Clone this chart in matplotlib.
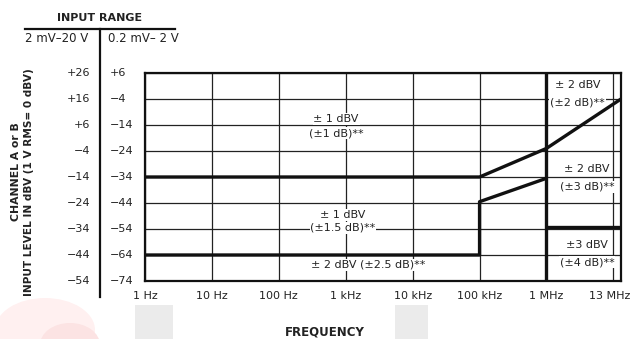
import matplotlib
matplotlib.use("Agg")
import matplotlib.pyplot as plt
from matplotlib.patches import Rectangle, Ellipse
from matplotlib.transforms import blended_transform_factory, ScaledTranslation

plt.rcParams['font.family'] = ['DejaVu Sans']

# ---- data ----
freq_ticks = [1, 10, 100, 1e3, 1e4, 1e5, 1e6, 1.3e7]
freq_labels = ["1 Hz", "10 Hz", "100 Hz", "1 kHz", "10 kHz", "100 kHz", "1 MHz", "13 MHz"]
grid_freqs = [1, 10, 100, 1e3, 1e4, 1e5, 1e6, 1e7]
range_hi = [26, 16, 6, -4, -14, -24, -34, -44, -54]          # 2 mV - 20 V range (dBV)
range_lo = [6, -4, -14, -24, -34, -44, -54, -64, -74]         # 0.2 mV - 2 V range (dBV)
range_hi_labels = ["+26", "+16", "+6", "\u22124", "\u221214", "\u221224", "\u221234", "\u221244", "\u221254"]
range_lo_labels = ["+6", "\u22124", "\u221214", "\u221224", "\u221234", "\u221244", "\u221254", "\u221264", "\u221274"]

upper_f = [1, 1e5, 1e6, 1.3e7]
upper_db = [-14, -14, -3, 16]
lower_f = [1, 1e5, 1e5, 1e6]
lower_db = [-44, -44, -23.5, -14.5]
hf_f = [1e6, 1.3e7]
hf_db = [-33.3, -33.3]
split_f = [1e6, 1e6]
split_db = [-54, 26]

W, H = 632, 339
fig = plt.figure(figsize=(W / 100, H / 100), dpi=100)
fig.patch.set_facecolor("white")

# faint background artifacts of the scan
fig.patches.append(Ellipse((45 / W, 1 - 330 / H), 100 / W, 64 / H, transform=fig.transFigure,
                           facecolor=(1.0, 0.94, 0.94), edgecolor="none", zorder=0))
fig.patches.append(Ellipse((70 / W, 1 - 345 / H), 60 / W, 44 / H, transform=fig.transFigure,
                           facecolor=(0.99, 0.89, 0.89), edgecolor="none", zorder=0))
fig.patches.append(Rectangle((135 / W, 0), 38 / W, 34 / H, transform=fig.transFigure,
                             facecolor=(0.92, 0.92, 0.92), edgecolor="none", zorder=0))
fig.patches.append(Rectangle((395 / W, 0), 33 / W, 34 / H, transform=fig.transFigure,
                             facecolor=(0.92, 0.92, 0.92), edgecolor="none", zorder=0))

L, R, T, B = 145, 621, 73, 281
ax = fig.add_axes([L / W, 1 - B / H, (R - L) / W, (B - T) / H])
ax.set_xscale("log")
ax.set_xlim(1, 1.3e7)
ax.set_ylim(-54, 26)
ax.set_facecolor("none")

# grid
for f in grid_freqs:
    ax.axvline(f, color="#222222", lw=0.9, zorder=1)
for v in range_hi:
    ax.axhline(v, color="#222222", lw=0.9, zorder=1)

for s in ax.spines.values():
    s.set_linewidth(1.6)
    s.set_color("#111111")

ax.set_yticks([])
ax.set_xticks(freq_ticks)
ax.set_xticklabels(freq_labels, fontsize=8)
ax.xaxis.set_minor_locator(matplotlib.ticker.NullLocator())
ax.tick_params(axis="x", length=0, pad=7, colors="#222222")
lbl = ax.get_xticklabels()[-1]
lbl.set_horizontalalignment("right")
lbl.set_transform(lbl.get_transform() + ScaledTranslation(9 / 100, 0, fig.dpi_scale_trans))

# thick boundary lines
kw = dict(color="#111111", lw=2.4, solid_capstyle="butt", zorder=4)
ax.plot(upper_f, upper_db, **kw)
ax.plot(lower_f, lower_db, **kw)
ax.plot(hf_f, hf_db, **kw)
ax.plot(split_f, split_db, **kw)

# region labels
bb = dict(facecolor="white", edgecolor="none", pad=0.6)
tk = dict(fontsize=8, ha="center", va="center", color="#222222", bbox=bb, zorder=3)
ax.text(720, 8.3, "\u00b1 1 dBV", **tk)
ax.text(720, 2.9, "(\u00b11 dB)**", **tk)
ax.text(910, -28.6, "\u00b1 1 dBV", **tk)
ax.text(910, -33.6, "(\u00b11.5 dB)**", **tk)
ax.text(2150, -47.8, "\u00b1 2 dBV (\u00b12.5 dB)**", **tk)
ax.text(2.9e6, 21.4, "\u00b1 2 dBV", **tk)
ax.text(2.9e6, 14.8, "(\u00b12 dB)**", **tk)
ax.text(4.05e6, -10.9, "\u00b1 2 dBV", **tk)
ax.text(4.05e6, -17.8, "(\u00b13 dB)**", **tk)
ax.text(4.05e6, -40.2, "\u00b13 dBV", **tk)
ax.text(4.05e6, -46.7, "(\u00b14 dB)**", **tk)

# y tick labels (two input ranges)
tr = blended_transform_factory(fig.transFigure, ax.transData)
for v, t in zip(range_hi, range_hi_labels):
    fig.text(90 / W, v, t, transform=tr, ha="right", va="center", fontsize=8, color="#222222")
for v, t in zip(range_hi, range_lo_labels):
    fig.text(110 / W, v, t, transform=tr, ha="left", va="center", fontsize=8, color="#222222")

# input range header
fig.text(100 / W, 1 - 18 / H, "INPUT RANGE", ha="center", va="center", fontsize=8, fontweight="bold", color="#222222")
fig.text(57 / W, 1 - 39 / H, "2 mV\u201320 V", ha="center", va="center", fontsize=8.5, color="#222222")
fig.text(143 / W, 1 - 39 / H, "0.2 mV\u2013 2 V", ha="center", va="center", fontsize=8.5, color="#222222")
fig.add_artist(plt.Line2D([25 / W, 175 / W], [1 - 29 / H, 1 - 29 / H], transform=fig.transFigure, color="#111111", lw=1.6))
fig.add_artist(plt.Line2D([100 / W, 100 / W], [1 - 29 / H, 1 - 297 / H], transform=fig.transFigure, color="#111111", lw=1.6))

# axis titles
fig.text(16 / W, 1 - 172 / H, "CHANNEL A or B", rotation=90, ha="center", va="center", fontsize=7.8, fontweight="bold", color="#222222")
fig.text(29 / W, 1 - 182 / H, "INPUT LEVEL IN dBV (1 V RMS= 0 dBV)", rotation=90, ha="center", va="center", fontsize=7.6, fontweight="bold", color="#222222")
fig.text(325 / W, 1 - 332 / H, "FREQUENCY", ha="center", va="center", fontsize=8.5, fontweight="bold", color="#222222")

fig.savefig("out.png", dpi=100)
